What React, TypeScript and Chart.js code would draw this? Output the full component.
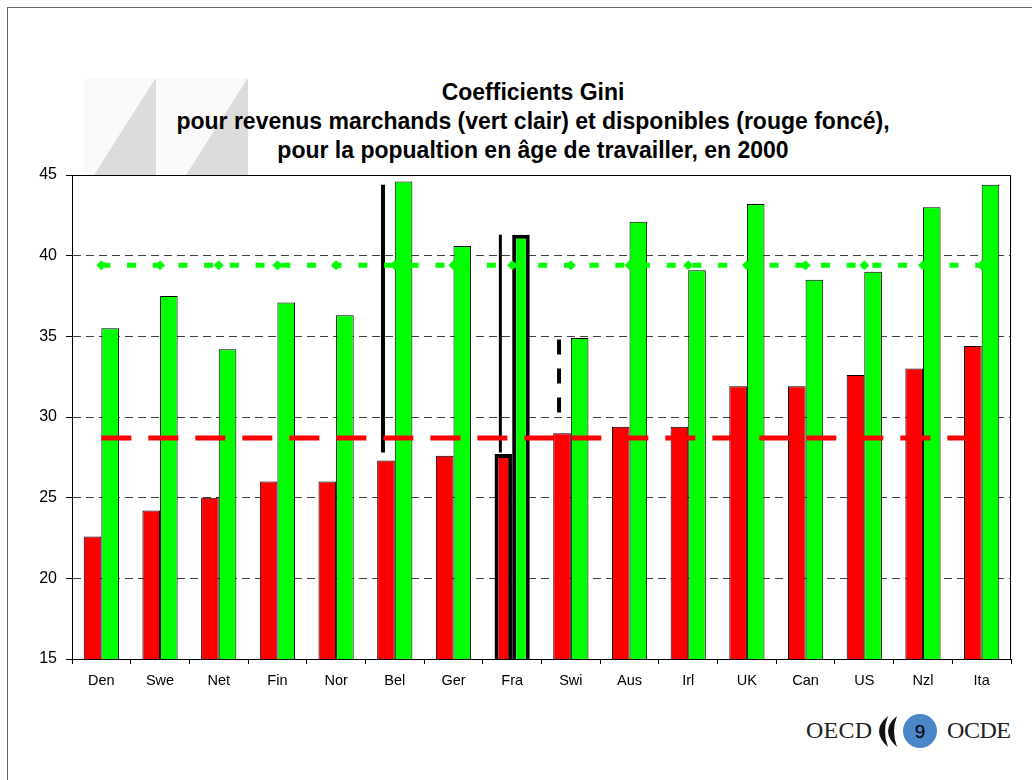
import React, { useEffect, useRef } from "react";
import { Chart, registerables } from "chart.js";

Chart.register(...registerables);

const categories = ["Den", "Swe", "Net", "Fin", "Nor", "Bel", "Ger", "Fra", "Swi", "Aus", "Irl", "UK", "Can", "US", "Nzl", "Ita"];
const disposableGini = [22.6, 24.2, 25.0, 26.0, 26.0, 27.3, 27.6, 27.7, 29.0, 29.4, 29.4, 31.9, 31.9, 32.6, 33.0, 34.4];
const marketGini = [35.5, 37.5, 34.2, 37.1, 36.3, 44.6, 40.6, 41.3, 34.9, 42.1, 39.1, 43.2, 38.5, 39.0, 43.0, 44.4];
const marketAverage = 39.4;
const disposableAverage = 28.7;
const yMin = 15;
const yMax = 45;
const yStep = 5;
const titleLines = [
  "Coefficients Gini",
  "pour revenus marchands (vert clair) et disponibles (rouge foncé),",
  "pour la popualtion en âge de travailler, en 2000",
];
const highlightedCategory = "Fra";
const gapCategories = ["Bel", "Fra", "Swi"];
const gapLow = [27.8, 27.8, 30.0];
const gapHigh = [44.4, 41.3, 34.8];
const gapDashed = [false, false, true];

const FONT = "'Liberation Sans', Arial, Helvetica, sans-serif";

const overlayPlugin = {
  id: "overlay",
  beforeDatasetsDraw(chart: any) {
    const ctx = chart.ctx;
    const y = chart.scales.y;
    const meta = chart.getDatasetMeta(2);
    gapCategories.forEach((c, i) => {
      const idx = categories.indexOf(c);
      const bar = meta.data[idx];
      if (!bar) return;
      const x = bar.x - 3;
      ctx.save();
      ctx.strokeStyle = "#000";
      ctx.lineWidth = i === 1 ? 3 : 4;
      ctx.setLineDash(gapDashed[i] ? [15, 14] : []);
      ctx.beginPath();
      ctx.moveTo(x, y.getPixelForValue(gapHigh[i]));
      ctx.lineTo(x, y.getPixelForValue(gapLow[i]));
      ctx.stroke();
      ctx.restore();
    });
  },
  afterDraw(chart: any) {
    const ctx = chart.ctx;
    const { left, right, top, bottom } = chart.chartArea;
    ctx.save();
    ctx.strokeStyle = "#000";
    ctx.lineWidth = 1;
    ctx.setLineDash([]);
    ctx.beginPath();
    ctx.moveTo(left, Math.round(top) + 0.5);
    ctx.lineTo(Math.round(right) - 0.5, Math.round(top) + 0.5);
    ctx.lineTo(Math.round(right) - 0.5, bottom);
    ctx.stroke();
    ctx.restore();
  },
};

function ChartCanvas() {
  const ref = useRef<HTMLCanvasElement | null>(null);
  useEffect(() => {
    if (!ref.current) return;
    Chart.defaults.font.family = FONT;
    Chart.defaults.color = "#000";
    const chart = new Chart(ref.current, {
      type: "bar",
      data: {
        labels: categories,
        datasets: [
          {
            type: "line",
            label: "Moyenne disponibles",
            data: categories.map(() => disposableAverage),
            borderColor: "#ff0000",
            borderWidth: 5,
            borderDash: [30, 17],
            borderCapStyle: "butt",
            pointRadius: 0,
            fill: false,
            order: 0,
          } as any,
          {
            type: "line",
            label: "Moyenne marchands",
            data: categories.map(() => marketAverage),
            borderColor: "#00ff00",
            borderWidth: 5,
            borderDash: [9, 16.7],
            borderCapStyle: "butt",
            pointStyle: "rectRot",
            pointRadius: 5,
            pointBackgroundColor: "#00ff00",
            pointBorderWidth: 0,
            fill: false,
            order: 0,
          } as any,
          {
            type: "bar",
            label: "Revenus disponibles",
            data: disposableGini,
            backgroundColor: "#ff0000",
            borderColor: "#000",
            borderWidth: categories.map((c) => (c === highlightedCategory ? 4 : 1)),
            borderSkipped: false,
            categoryPercentage: 0.6,
            barPercentage: 1,
            order: 1,
          } as any,
          {
            type: "bar",
            label: "Revenus marchands",
            data: marketGini,
            backgroundColor: "#00ff00",
            borderColor: "#000",
            borderWidth: categories.map((c) => (c === highlightedCategory ? 4 : 1)),
            borderSkipped: false,
            categoryPercentage: 0.6,
            barPercentage: 1,
            order: 1,
          } as any,
        ],
      },
      options: {
        animation: false,
        responsive: true,
        maintainAspectRatio: false,
        events: [],
        layout: { padding: { top: 175, left: 35, right: 21, bottom: 82.6 } },
        plugins: {
          legend: { display: false },
          tooltip: { enabled: false },
          title: { display: false },
        },
        scales: {
          x: {
            offset: true,
            grid: {
              display: true,
              drawOnChartArea: false,
              drawTicks: true,
              tickLength: 5,
              tickColor: "#000",
              offset: true,
            },
            border: { display: true, color: "#000", width: 1 },
            ticks: {
              color: "#000",
              font: { family: FONT, size: 14.5 },
              padding: 8,
              maxRotation: 0,
              autoSkip: false,
            },
          },
          y: {
            min: yMin,
            max: yMax,
            afterFit: (scale: any) => {
              scale.width = 37;
            },
            grid: {
              color: "#404040",
              lineWidth: 1,
              tickColor: "#000",
              tickLength: 6,
              drawTicks: true,
            },
            border: { display: true, color: "#000", width: 1, dash: [8, 5] },
            ticks: {
              stepSize: yStep,
              color: "#000",
              font: { family: FONT, size: 16 },
              padding: 9,
            },
          },
        },
      } as any,
      plugins: [overlayPlugin],
    });
    return () => chart.destroy();
  }, []);
  return <canvas ref={ref} />;
}

export default function App() {
  return (
    <div
      style={{
        position: "fixed",
        left: 0,
        top: 0,
        width: 1032,
        height: 780,
        background: "#fff",
        overflow: "hidden",
      }}
    >
      <svg
        width={1032}
        height={780}
        style={{ position: "absolute", left: 0, top: 0 }}
      >
        <line x1={7.5} y1={7} x2={7.5} y2={780} stroke="#666" strokeWidth={1} />
        <line x1={7} y1={7.5} x2={1032} y2={7.5} stroke="#666" strokeWidth={1} />
        <rect x={84} y={78} width={164} height={97} fill="#fafafa" />
        <polygon points="155,79 156,79 156,175 94,175" fill="#dcdcdc" />
        <polygon points="247,79 248,79 248,175 186,175" fill="#dcdcdc" />
        <text
          x={806}
          y={738}
          fontFamily="'Liberation Serif', 'Times New Roman', serif"
          fontSize={24}
          fill="#222"
          textLength={66}
        >
          OECD
        </text>
        <path d="M888,716 Q870,731 888,747 Q882,731 888,716 Z" fill="#111" />
        <path d="M897,716 Q879,731 897,747 Q891,731 897,716 Z" fill="#111" />
        <circle cx={920} cy={731} r={17} fill="#4a86c8" />
        <text
          x={920}
          y={738}
          textAnchor="middle"
          fontFamily="'Liberation Sans', Arial, sans-serif"
          fontSize={19}
          fill="#000"
        >
          9
        </text>
        <text
          x={947}
          y={738}
          fontFamily="'Liberation Serif', 'Times New Roman', serif"
          fontSize={24}
          fill="#222"
          textLength={64}
        >
          OCDE
        </text>
      </svg>
      <div
        style={{
          position: "absolute",
          left: 33,
          width: 1000,
          top: 77.5,
          textAlign: "center",
          fontFamily: FONT,
          fontWeight: "bold",
          fontSize: 23,
          lineHeight: "29px",
          color: "#000",
          whiteSpace: "nowrap",
        }}
      >
        {titleLines.map((t, i) => (
          <div key={i}>{t}</div>
        ))}
      </div>
      <div style={{ position: "absolute", left: 0, top: 0, width: 1032, height: 780 }}>
        <ChartCanvas />
      </div>
    </div>
  );
}
